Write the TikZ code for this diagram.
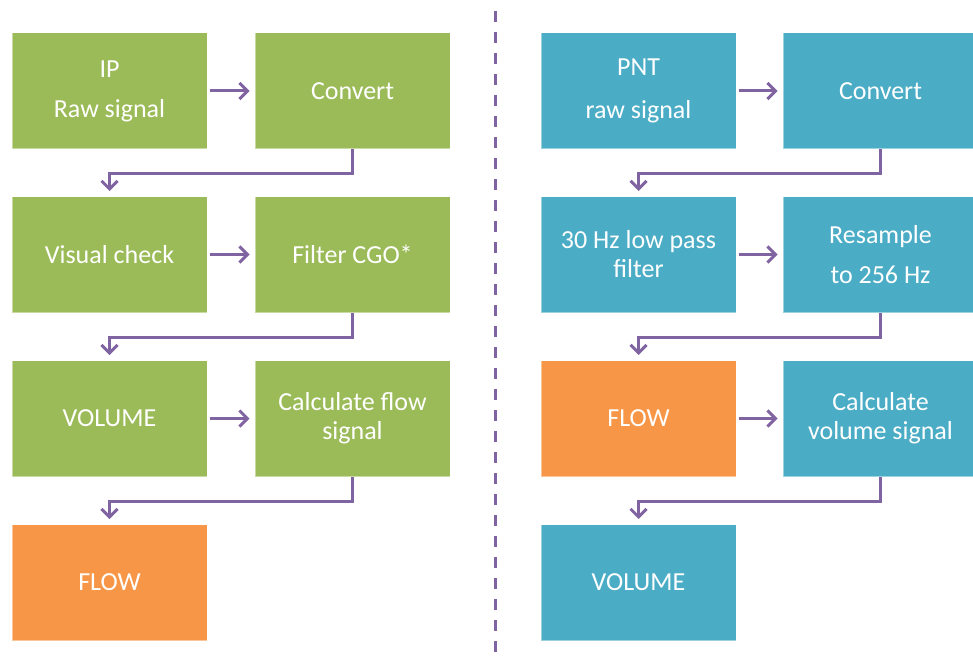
\documentclass[tikz,border=0pt]{standalone}
\usepackage{fontspec}
\setmainfont{Carlito}
\usetikzlibrary{arrows.meta,calc}
\definecolor{cgreen}{HTML}{9BBB59}
\definecolor{cblue}{HTML}{4BACC6}
\definecolor{corange}{HTML}{F79646}
\definecolor{cpurple}{HTML}{8064A2}
\begin{document}
\begin{tikzpicture}[x=1pt,y=-1pt,
  box/.style={rectangle,minimum width=195pt,minimum height=116pt,inner sep=0pt,
    draw=white,draw opacity=0.45,line width=1pt,text=white,align=center,
    font=\fontsize{26}{29}\selectfont},
  gbox/.style={box,fill=cgreen},
  bbox/.style={box,fill=cblue},
  obox/.style={box,fill=corange},
  arr/.style={draw=cpurple,line width=3pt,-{Straight Barb[length=8pt,width=16pt,line width=3pt]}},
  sep/.style={draw=cpurple,line width=3pt,dash pattern=on 11pt off 10pt}]
\clip (0,0) rectangle (973,655);
% left column
\node[gbox] (l1) at (109.5,91) {IP\\[11pt]Raw signal};
\node[gbox] (l2) at (352.5,91) {Convert};
\node[gbox] (l3) at (109.5,254.5) {Visual check};
\node[gbox] (l4) at (352.5,254.5) {Filter CGO*};
\node[gbox] (l5) at (109.5,418.5) {VOLUME};
\node[gbox] (l6) at (352.5,418.5) {Calculate flow\\signal};
\node[obox] (l7) at (109.5,582.5) {FLOW};
% right column
\node[bbox] (r1) at (638.5,91) {PNT\\[14pt]raw signal};
\node[bbox] (r2) at (880.5,91) {Convert};
\node[bbox] (r3) at (638.5,254.5) {30 Hz low pass\\filter};
\node[bbox] (r4) at (880.5,254.5) {Resample\\[11pt]to 256 Hz};
\node[obox] (r5) at (638.5,418.5) {FLOW};
\node[bbox] (r6) at (880.5,418.5) {Calculate\\volume signal};
\node[bbox] (r7) at (638.5,582.5) {VOLUME};
% separator
\coordinate (sTop) at (495.5,11);
\coordinate (sBot) at (495.5,660);
\draw[sep] (sTop) -- (sBot);
% horizontal arrows
\foreach \a/\b in {l1/l2,l3/l4,l5/l6,r1/r2,r3/r4,r5/r6}{
  \draw[arr] ($(\a.east)+(2,0)$) -- ($(\b.west)+(-5,0)$);
}
% elbow arrows
\foreach \a/\b in {l2/l3,l4/l5,l6/l7,r2/r3,r4/r5,r6/r7}{
  \draw[arr] (\a.south) -- ++(0,24) -| ($(\b.north)+(0,-5)$);
}
\end{tikzpicture}
\end{document}
